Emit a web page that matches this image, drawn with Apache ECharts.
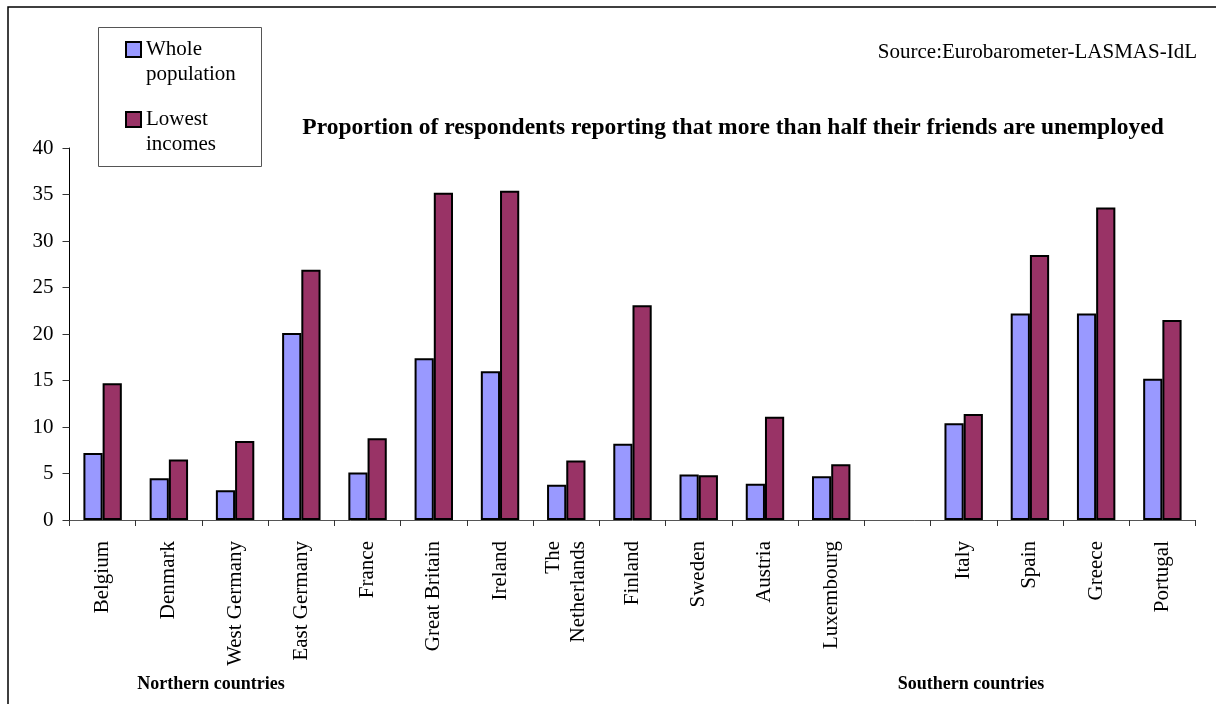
<!DOCTYPE html>
<html>
<head>
<meta charset="utf-8">
<script src="https://cdn.jsdelivr.net/npm/echarts@6/dist/echarts.min.js"></script>
<style>
  html, body { margin: 0; padding: 0; background: #fff; }
  #chart { width: 1216px; height: 704px; }
</style>
</head>
<body>
<div id="chart"></div>
<script>
// countries, with an empty slot between the northern and southern groups
const countries = ['Belgium', 'Denmark', 'West Germany', 'East Germany', 'France', 'Great Britain',
  'Ireland', 'The\nNetherlands', 'Finland', 'Sweden', 'Austria', 'Luxembourg', '',
  'Italy', 'Spain', 'Greece', 'Portugal']
const wholePopulation = [7.2, 4.5, 3.2, 20.1, 5.1, 17.4, 16.0, 3.8, 8.2, 4.9, 3.9, 4.7, null, 10.4, 22.2, 22.2, 15.2]
const lowestIncomes = [14.7, 6.5, 8.5, 26.9, 8.8, 35.2, 35.4, 6.4, 23.1, 4.8, 11.1, 6.0, null, 11.4, 28.5, 33.6, 21.5]
const yTicks = [0, 5, 10, 15, 20, 25, 30, 35, 40]

const font = "'Liberation Serif', 'Times New Roman', serif"
const chart = echarts.init(document.getElementById('chart'))

chart.setOption({
  backgroundColor: '#fff',
  animation: false,
  textStyle: { fontFamily: font, color: '#000' },
  title: [
    {
      text: 'Proportion of respondents reporting that more than half their friends are unemployed',
      left: 733,
      top: 116,
      padding: 0,
      textAlign: 'center',
      textStyle: { fontFamily: font, fontSize: 23.5, fontWeight: 'bold', color: '#000' }
    },
    {
      text: 'Source:Eurobarometer-LASMAS-IdL',
      right: 19,
      top: 42,
      padding: 0,
      textStyle: { fontFamily: font, fontSize: 21, fontWeight: 'normal', color: '#000' }
    },
    {
      text: 'Northern countries',
      left: 211,
      top: 675,
      padding: 0,
      textAlign: 'center',
      textStyle: { fontFamily: font, fontSize: 18, fontWeight: 'bold', color: '#000' }
    },
    {
      text: 'Southern countries',
      left: 971,
      top: 675,
      padding: 0,
      textAlign: 'center',
      textStyle: { fontFamily: font, fontSize: 18, fontWeight: 'bold', color: '#000' }
    }
  ],
  legend: {
    orient: 'vertical',
    left: 125,
    top: 12,
    padding: 0,
    itemWidth: 15,
    itemHeight: 15,
    itemGap: -5,
    icon: 'rect',
    // leading blank line keeps the icon level with the first line of text
    formatter: (name) => '\n' + name.replace(' ', '\n'),
    textStyle: { fontFamily: font, fontSize: 21, lineHeight: 25, color: '#000' },
    data: ['Whole population', 'Lowest incomes']
  },
  graphic: [
    {
      type: 'rect',
      shape: { x: 8, y: 7, width: 1220, height: 720 },
      style: { fill: 'none', stroke: '#000', lineWidth: 1.5 },
      silent: true,
      z: -1
    },
    {
      type: 'rect',
      shape: { x: 98.5, y: 27.5, width: 163, height: 139 },
      style: { fill: '#fff', stroke: '#555', lineWidth: 1 },
      silent: true,
      z: 0
    }
  ],
  grid: { left: 69.5, right: 20.5, top: 148, bottom: 184, containLabel: false },
  xAxis: {
    type: 'category',
    data: countries,
    axisLine: { lineStyle: { color: '#555', width: 1 } },
    axisTick: { show: true, length: 6, inside: false, lineStyle: { color: '#333' } },
    axisLabel: {
      rotate: 90,
      interval: 0,
      margin: 21,
      fontFamily: font,
      fontSize: 21,
      lineHeight: 25,
      color: '#000',
      align: 'right'
    }
  },
  yAxis: {
    type: 'value',
    min: 0,
    max: 40,
    interval: 5,
    axisLine: { show: true, lineStyle: { color: '#000', width: 1 } },
    axisTick: { show: true, length: 7, lineStyle: { color: '#333' } },
    splitLine: { show: false },
    axisLabel: {
      margin: 16,
      fontFamily: font,
      fontSize: 21,
      color: '#000',
      formatter: (v) => yTicks.includes(v) ? String(v) : ''
    }
  },
  series: [
    {
      name: 'Whole population',
      type: 'bar',
      data: wholePopulation,
      barGap: '0%',
      barCategoryGap: '42%',
      itemStyle: { color: '#9999ff', borderColor: '#000', borderWidth: 2 }
    },
    {
      name: 'Lowest incomes',
      type: 'bar',
      data: lowestIncomes,
      itemStyle: { color: '#993366', borderColor: '#000', borderWidth: 2 }
    }
  ]
})

window.addEventListener('resize', () => {
  chart.resize()
})
</script>
</body>
</html>
